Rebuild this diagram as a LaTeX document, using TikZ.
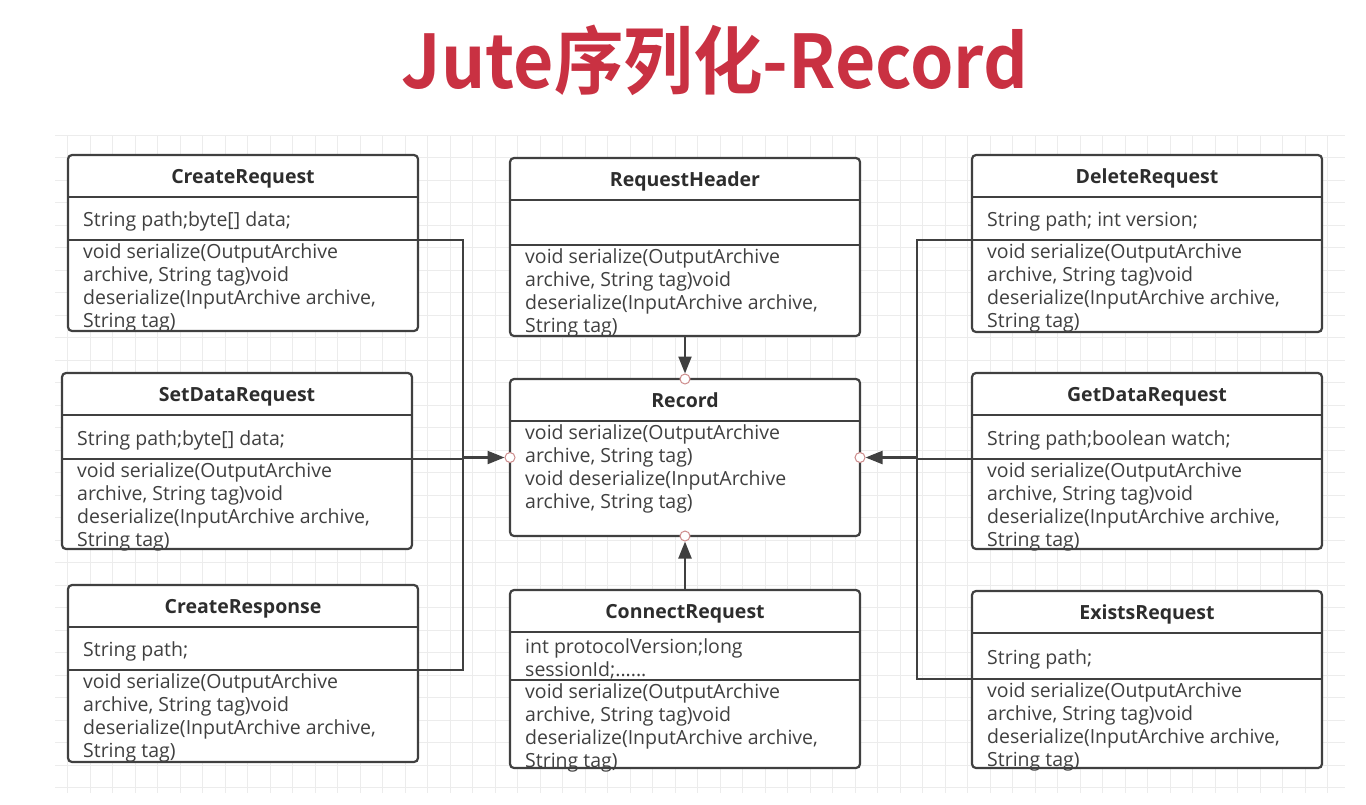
\documentclass[tikz,border=0pt]{standalone}
\usepackage{fontspec}
\setmainfont{Open Sans}
\newfontfamily\titlefont{Noto Sans CJK SC}[BoldFont={Noto Sans CJK SC Bold}]
\usetikzlibrary{arrows.meta}

\definecolor{umlgray}{RGB}{64,64,64}
\definecolor{titlered}{RGB}{201,49,66}
\definecolor{gridgray}{RGB}{236,236,236}
\definecolor{portred}{RGB}{205,140,140}

\tikzset{
  classbox/.style={draw=umlgray, line width=2.2pt, rounded corners=4pt, fill=white,
                   inner sep=0pt, outer sep=0pt, minimum width=350pt},
  classline/.style={draw=umlgray, line width=2.2pt},
  classname/.style={inner sep=0pt, text=umlgray!70!black, font=\fontsize{19.5}{22}\selectfont\bfseries},
  classtext/.style={inner sep=0pt, align=left, text=umlgray, font=\fontsize{19.5}{23}\selectfont,
                    execute at begin node=\rule{0pt}{15pt}},
  port/.style={circle, draw=portred, fill=white, line width=1pt, minimum size=10pt, inner sep=0pt},
  conn/.style={draw=umlgray, line width=2.2pt},
  arr/.style={conn, -{Triangle[length=17pt,width=13pt]}},
  gridline/.style={draw=gridgray, line width=1pt},
}

% #1 name, #2 x, #3 y, #4 attribute height, #5 method height, #6 title, #7 attributes, #8 methods
\newcommand{\classbox}[8]{%
  \node[classbox, minimum height={(42+#4+#5)*1pt}, anchor=north west] (#1) at (#2,#3) {};
  \draw[classline] ([yshift=-42pt]#1.north west) -- ([yshift=-42pt]#1.north east);
  \coordinate (#1-dw) at ([yshift={-(42+#4)*1pt}]#1.north west);
  \coordinate (#1-de) at ([yshift={-(42+#4)*1pt}]#1.north east);
  \draw[classline] (#1-dw) -- (#1-de);
  \node[classname, anchor=base] (#1-n) at ([yshift=-28pt]#1.north) {#6};
  \node[classtext, anchor=west] (#1-a) at ([xshift=15pt, yshift={-(45+#4/2)*1pt}]#1.north west) {#7};
  \node[classtext, anchor=north west] (#1-m) at ([xshift=15pt, yshift=-3pt]#1-dw) {#8};
}

\begin{document}
\begin{tikzpicture}[x=1pt,y=-1pt]
\useasboundingbox (0,0) rectangle (1366,804);
\draw[gridline] (55,135) grid[step=22.5pt] (1345,793);

\node[anchor=base, text=titlered, font=\titlefont\bfseries\fontsize{74}{80}\selectfont] (title) at (715,88)
  {\scalebox{0.94}[1]{Jute序列化-Record}};

\classbox{createReq}{68}{155}{43}{91}{CreateRequest}{String path;byte[] data;}
  {void serialize(OutputArchive\\archive, String tag)void\\deserialize(InputArchive archive,\\String tag)}
\classbox{setData}{62}{373}{44}{90}{SetDataRequest}{String path;byte[] data;}
  {void serialize(OutputArchive\\archive, String tag)void\\deserialize(InputArchive archive,\\String tag)}
\classbox{createResp}{68}{585}{43}{92}{CreateResponse}{String path;}
  {void serialize(OutputArchive\\archive, String tag)void\\deserialize(InputArchive archive,\\String tag)}
\classbox{reqHeader}{510}{158}{45}{91}{RequestHeader}{}
  {void serialize(OutputArchive\\archive, String tag)void\\deserialize(InputArchive archive,\\String tag)}
\classbox{record}{510}{379}{0}{115}{Record}{}
  {void serialize(OutputArchive\\archive, String tag)\\void deserialize(InputArchive\\archive, String tag)}
\classbox{connectReq}{510}{590}{48}{88}{ConnectRequest}{int protocolVersion;long\\sessionId;......}
  {void serialize(OutputArchive\\archive, String tag)void\\deserialize(InputArchive archive,\\String tag)}
\classbox{deleteReq}{972}{155}{43}{92}{DeleteRequest}{String path; int version;}
  {void serialize(OutputArchive\\archive, String tag)void\\deserialize(InputArchive archive,\\String tag)}
\classbox{getData}{972}{373}{44}{90}{GetDataRequest}{String path;boolean watch;}
  {void serialize(OutputArchive\\archive, String tag)void\\deserialize(InputArchive archive,\\String tag)}
\classbox{existsReq}{972}{591}{46}{89}{ExistsRequest}{String path;}
  {void serialize(OutputArchive\\archive, String tag)void\\deserialize(InputArchive archive,\\String tag)}

\node[port] (recT) at (record.north) {};
\node[port] (recB) at (record.south) {};
\node[port] (recL) at (record.west) {};
\node[port] (recR) at (record.east) {};
\coordinate (busL) at (463,457.5);
\coordinate (busR) at (917,457.5);

\draw[conn] (createReq-de) -| (busL) |- (createResp-de);
\draw[conn] (setData-de) -- (setData-de -| busL);
\draw[arr]  (busL) -- (recL);
\draw[conn] (deleteReq-dw) -| (busR) |- (existsReq-dw);
\draw[conn] (getData-dw) -- (getData-dw -| busR);
\draw[arr]  (busR) -- (recR);
\draw[arr]  (reqHeader.south) -- (recT);
\draw[arr]  (connectReq.north) -- (recB);
\end{tikzpicture}
\end{document}
